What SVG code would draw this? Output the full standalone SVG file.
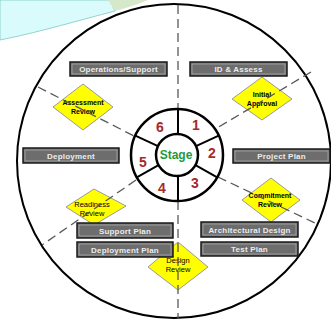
<svg xmlns="http://www.w3.org/2000/svg" width="331" height="324" viewBox="0 0 331 324">
<style>
.bx{fill:#6d6d6d;stroke:#1a1a1a;stroke-width:1.5}
.bxi{fill:none;stroke:#a9a9a9;stroke-width:0.8}
.bt{font-family:"Liberation Sans",Arial,sans-serif;font-size:8px;font-weight:bold;fill:#ececec;text-anchor:middle;letter-spacing:0.2px}
.dm{fill:#ffff00;stroke:#9a9a9a;stroke-width:1}
.dt{font-family:"Liberation Sans",Arial,sans-serif;font-size:7px;font-weight:bold;fill:#000;text-anchor:middle}
.dtn{font-family:"Liberation Sans",Arial,sans-serif;font-size:7.5px;fill:#000;text-anchor:middle}
.dash{stroke:#5a5a5a;stroke-width:1.3;stroke-dasharray:9 5;fill:none}
.ring{fill:#fff;stroke:#000;stroke-width:2.5}
.div{stroke:#000;stroke-width:2}
.num{font-family:"Liberation Sans",Arial,sans-serif;font-size:14px;font-weight:bold;fill:#a52a2a;text-anchor:middle}
</style>
<rect width="331" height="324" fill="#fff"/>
<path d="M0,0 H110 L115,11 C80,20 40,32 0,40 Z" fill="#dafbfb" stroke="#7ec8c0" stroke-width="0.8"/>
<path d="M108,0 H148 C136,5 126,8 115,11 Z" fill="#d6e8ca"/>
<circle cx="174" cy="161" r="157" fill="none" stroke="#000" stroke-width="2"/>

<g id="assessment-review"><polygon class="dm" points="83,84 113,107 83,130 53,107"/><text class="dt" x="83" y="104.5">Assessment</text><text class="dt" x="83" y="113.5">Review</text></g>
<g id="initial-approval"><polygon class="dm" points="262,77 292,99 262,120 232,99"/><text class="dt" x="262" y="96.5">Initial</text><text class="dt" x="262" y="105.5">Approval</text></g>
<g id="commitment-review"><polygon class="dm" points="271,178 300,200 271,222 242,200"/><text class="dt" x="270" y="197.5">Commitment</text><text class="dt" x="270" y="206.5">Review</text></g>
<g id="readiness-review"><polygon class="dm" points="94,189 126,206 94,225 66,207"/><text class="dtn" x="92" y="206.5">Readiness</text><text class="dtn" x="92" y="215.5">Review</text></g>
<g id="design-review"><polygon class="dm" points="178,242 208,267 178,290 148,267"/><text class="dtn" x="178" y="263">Design</text><text class="dtn" x="178" y="272">Review</text></g>

<g id="connectors">
<line class="dash" x1="178" y1="5" x2="178" y2="109"/>
<line class="dash" x1="178" y1="201" x2="178" y2="318"/>
<line class="dash" x1="38" y1="87" x2="134" y2="136"/>
<line class="dash" x1="311" y1="72" x2="217" y2="128"/>
<line class="dash" x1="218" y1="177" x2="317" y2="224"/>
<line class="dash" x1="136" y1="180" x2="42" y2="245"/>
</g>

<g id="operations-support"><rect class="bx" x="70" y="62" width="97" height="14"/><rect class="bxi" x="72" y="64" width="93" height="10"/><text class="bt" x="118.5" y="72">Operations/Support</text></g>
<g id="id-assess"><rect class="bx" x="190" y="62" width="97" height="14"/><rect class="bxi" x="192" y="64" width="93" height="10"/><text class="bt" x="238.5" y="72">ID &amp; Assess</text></g>
<g id="deployment"><rect class="bx" x="23" y="148" width="96" height="15"/><rect class="bxi" x="25" y="150" width="92" height="11"/><text class="bt" x="71" y="158.5">Deployment</text></g>
<g id="project-plan"><rect class="bx" x="233" y="149" width="97" height="14"/><rect class="bxi" x="235" y="151" width="93" height="10"/><text class="bt" x="281.5" y="159">Project Plan</text></g>
<g id="support-plan"><rect class="bx" x="77" y="223" width="96" height="15"/><rect class="bxi" x="79" y="225" width="92" height="11"/><text class="bt" x="125" y="233.5">Support Plan</text></g>
<g id="deployment-plan"><rect class="bx" x="77" y="242" width="96" height="15"/><rect class="bxi" x="79" y="244" width="92" height="11"/><text class="bt" x="125" y="252.5">Deployment Plan</text></g>
<g id="architectural-design"><rect class="bx" x="201" y="222" width="97" height="15"/><rect class="bxi" x="203" y="224" width="93" height="11"/><text class="bt" x="249.5" y="232.5">Architectural Design</text></g>
<g id="test-plan"><rect class="bx" x="201" y="242" width="97" height="14"/><rect class="bxi" x="203" y="244" width="93" height="10"/><text class="bt" x="249.5" y="252">Test Plan</text></g>

<g id="stage-ring">
<circle class="ring" cx="177" cy="155" r="46"/>
<line class="div" x1="178" y1="109" x2="178" y2="134"/>
<line class="div" x1="178" y1="176" x2="178" y2="201"/>
<line class="div" x1="196" y1="146.1" x2="218.7" y2="135.6"/>
<line class="div" x1="195.5" y1="165.2" x2="217.2" y2="177.3"/>
<line class="div" x1="158" y1="146.1" x2="135.3" y2="135.6"/>
<line class="div" x1="158.5" y1="165.2" x2="136.8" y2="177.3"/>
<circle class="ring" cx="177" cy="155" r="21"/>
<text class="num" x="160" y="132">6</text>
<text class="num" x="196" y="130">1</text>
<text class="num" x="212" y="158">2</text>
<text class="num" x="195" y="188">3</text>
<text class="num" x="162" y="193">4</text>
<text class="num" x="143" y="167">5</text>
<text x="176" y="159" font-family="Liberation Sans,Arial,sans-serif" font-size="12" font-weight="bold" fill="#1e9a3c" text-anchor="middle">Stage</text>
</g>
</svg>
